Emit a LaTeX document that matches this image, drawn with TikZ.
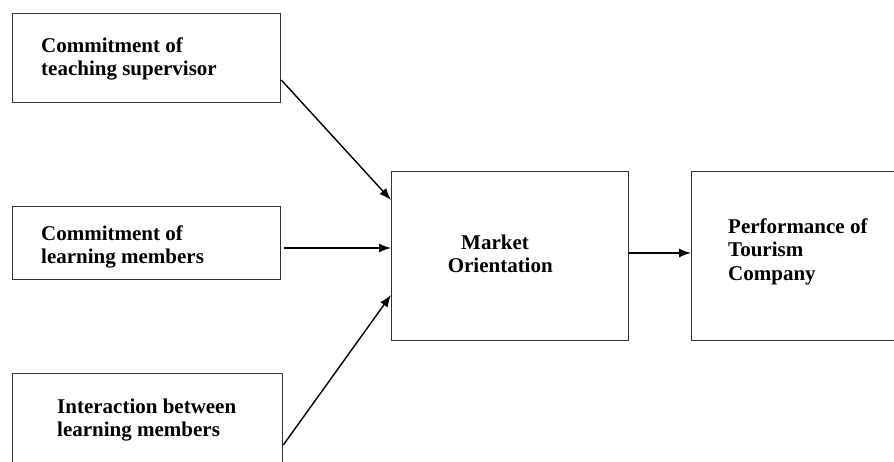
\documentclass[tikz,border=0pt]{standalone}
\usepackage{fontspec}
\setmainfont{Liberation Serif}
\usetikzlibrary{arrows.meta,calc}
\begin{document}
\begin{tikzpicture}[x=1pt,y=-1pt,
  box/.style={draw=black!80,line width=1.3pt,inner sep=0pt,anchor=north west},
  lbl/.style={inner sep=0pt,font=\fontsize{21}{23.5}\selectfont\bfseries,align=left},
  conn/.style={line width=1.4pt,-{Latex[length=12pt,width=9pt]}}]
\useasboundingbox (0,0) rectangle (894,462);
\clip (0,0) rectangle (894,462);
\fill[white] (0,0) rectangle (894,462);
\node[box,minimum width=268pt,minimum height=89pt] (b1) at (12,13) {};
\node[box,minimum width=268pt,minimum height=73pt] (b2) at (12,206) {};
\node[box,minimum width=270pt,minimum height=110pt] (b3) at (12,373) {};
\node[box,minimum width=237pt,minimum height=169pt] (mo) at (391,171) {};
\node[box,minimum width=220pt,minimum height=169pt] (pf) at (691,171) {};
\node[lbl,anchor=north west] (t1) at (41,37.5) {Commitment of\\teaching supervisor};
\node[lbl,anchor=north west] (t2) at (41,225.5) {Commitment of\\learning members};
\node[lbl,anchor=north west] (t3) at (57,398.5) {Interaction between\\learning members};
\node[lbl,align=center,anchor=north] (t4) at (495,234.5) {Market\\\ \ Orientation};
\node[lbl,anchor=north west] (t5) at (728,218.5) {Performance of\\Tourism\\Company};
\coordinate (s1) at ($(b1.north east)+(0,67)$);
\coordinate (e1) at ($(mo.north west)+(0,29)$);
\coordinate (s2) at ($(b2.north east)+(3,42)$);
\coordinate (e2) at ($(mo.north west)+(0,77)$);
\coordinate (s3) at ($(b3.north east)+(0,72)$);
\coordinate (e3) at ($(mo.north west)+(0,124)$);
\coordinate (s4) at ($(mo.north east)+(0,82)$);
\coordinate (e4) at ($(pf.north west)+(0,82)$);
\draw[conn] (s1) -- (e1);
\draw[conn] (s2) -- (e2);
\draw[conn] (s3) -- (e3);
\draw[conn] (s4) -- (e4);
\end{tikzpicture}
\end{document}
